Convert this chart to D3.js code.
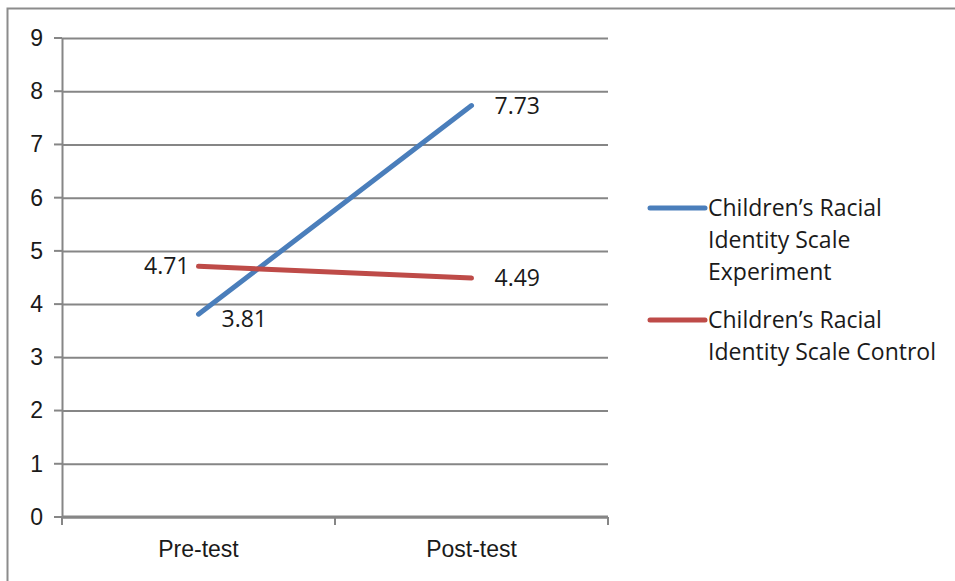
<!DOCTYPE html>
<html>
<head>
<meta charset="utf-8">
<script src="https://cdn.jsdelivr.net/npm/d3@7"></script>
<style>
  body { margin: 0; background: #fff; }
  svg { display: block; font-family: "Open Sans", sans-serif; }
</style>
</head>
<body>
<div id="chart"></div>
<script>
const categories = ["Pre-test", "Post-test"];
const seriesNames = ["Children\u2019s Racial Identity Scale Experiment", "Children\u2019s Racial Identity Scale Control"];
const experiment = [3.81, 7.73];
const control = [4.71, 4.49];
const yTicks = [0, 1, 2, 3, 4, 5, 6, 7, 8, 9];
const legendLines = [["Children\u2019s Racial", "Identity Scale", "Experiment"], ["Children\u2019s Racial", "Identity Scale Control"]];

const width = 955, height = 581,
  margin = ({ top: 38, right: 347, bottom: 64, left: 62 });
const fontSize = 23;

const svg = d3.select("#chart")
  .append("svg")
  .attr("width", width)
  .attr("height", height);

// outer frame
svg.append("rect")
  .attr("x", 7.5).attr("y", 8.5)
  .attr("width", 960).attr("height", 600)
  .attr("fill", "none")
  .attr("stroke", "#8c8c8c")
  .attr("stroke-width", 2);

const x = d3.scaleBand()
  .domain(categories)
  .range([margin.left, width - margin.right]);

const y = d3.scaleLinear()
  .domain([0, 9])
  .range([height - margin.bottom, margin.top]);

// gridlines + y axis
svg.append("g")
  .attr("transform", `translate(${margin.left},0)`)
  .call(d3.axisLeft(y)
    .tickValues(yTicks)
    .tickSize(-(width - margin.right - margin.left))
    .tickSizeOuter(0)
    .tickPadding(19))
  .call(g => g.select(".domain").attr("stroke", "#868686").attr("stroke-width", 2))
  .call(g => g.selectAll(".tick line").attr("stroke", "#868686").attr("stroke-width", 2))
  .call(g => g.selectAll(".tick text").attr("font-size", fontSize).attr("fill", "#1a1a1a"));

// small outer ticks to the left of y axis
svg.append("g")
  .selectAll("line")
  .data(yTicks)
  .join("line")
  .attr("x1", margin.left - 8).attr("x2", margin.left)
  .attr("y1", d => y(d)).attr("y2", d => y(d))
  .attr("stroke", "#868686").attr("stroke-width", 2);

// x axis
svg.append("g")
  .attr("transform", `translate(0,${height - margin.bottom})`)
  .call(d3.axisBottom(x).tickSize(0).tickPadding(24))
  .call(g => g.select(".domain").remove())
  .call(g => g.selectAll(".tick text").attr("font-size", fontSize).attr("fill", "#1a1a1a"));

svg.append("line")
  .attr("x1", margin.left).attr("x2", width - margin.right)
  .attr("y1", y(0)).attr("y2", y(0))
  .attr("stroke", "#868686").attr("stroke-width", 3);

const bounds = [margin.left, ...categories.map(c => x(c) + x.bandwidth())];
svg.append("g")
  .selectAll("line")
  .data(bounds)
  .join("line")
  .attr("x1", d => d).attr("x2", d => d)
  .attr("y1", y(0)).attr("y2", y(0) + 8)
  .attr("stroke", "#868686").attr("stroke-width", 2);

const series = [
  { name: seriesNames[0], values: experiment, color: "#4a7ebb" },
  { name: seriesNames[1], values: control, color: "#be4b48" }
];

const line = d3.line()
  .x((d, i) => x(categories[i]) + x.bandwidth() / 2)
  .y(d => y(d));

svg.append("g")
  .selectAll("path")
  .data(series)
  .join("path")
  .attr("d", d => line(d.values))
  .attr("fill", "none")
  .attr("stroke", d => d.color)
  .attr("stroke-width", 5)
  .attr("stroke-linecap", "round");

// data labels: control pre-test on the left, others on the right
const labels = [];
series.forEach((s, si) => s.values.forEach((v, i) => {
  const left = si === 1 && i === 0;
  labels.push({ v, i, left, dy: si === 0 && i === 0 ? 5 : 0 });
}));

svg.append("g")
  .selectAll("text")
  .data(labels)
  .join("text")
  .attr("x", d => x(categories[d.i]) + x.bandwidth() / 2 + (d.left ? -9 : 23))
  .attr("y", d => y(d.v) + d.dy)
  .attr("dy", "0.35em")
  .attr("text-anchor", d => d.left ? "end" : "start")
  .attr("font-size", fontSize)
  .attr("fill", "#1a1a1a")
  .text(d => d.v.toFixed(2));

// legend
const legendY = [208, 320];
const legend = svg.append("g")
  .selectAll("g")
  .data(series)
  .join("g")
  .attr("transform", (d, i) => `translate(650,${legendY[i]})`);

legend.append("line")
  .attr("x1", 0).attr("x2", 55)
  .attr("stroke", d => d.color)
  .attr("stroke-width", 5)
  .attr("stroke-linecap", "round");

legend.append("text")
  .attr("font-size", fontSize)
  .attr("fill", "#1a1a1a")
  .selectAll("tspan")
  .data((d, i) => legendLines[i])
  .join("tspan")
  .attr("x", 58)
  .attr("y", (d, j) => j * 32)
  .attr("dy", "0.35em")
  .text(d => d);
</script>
</body>
</html>
